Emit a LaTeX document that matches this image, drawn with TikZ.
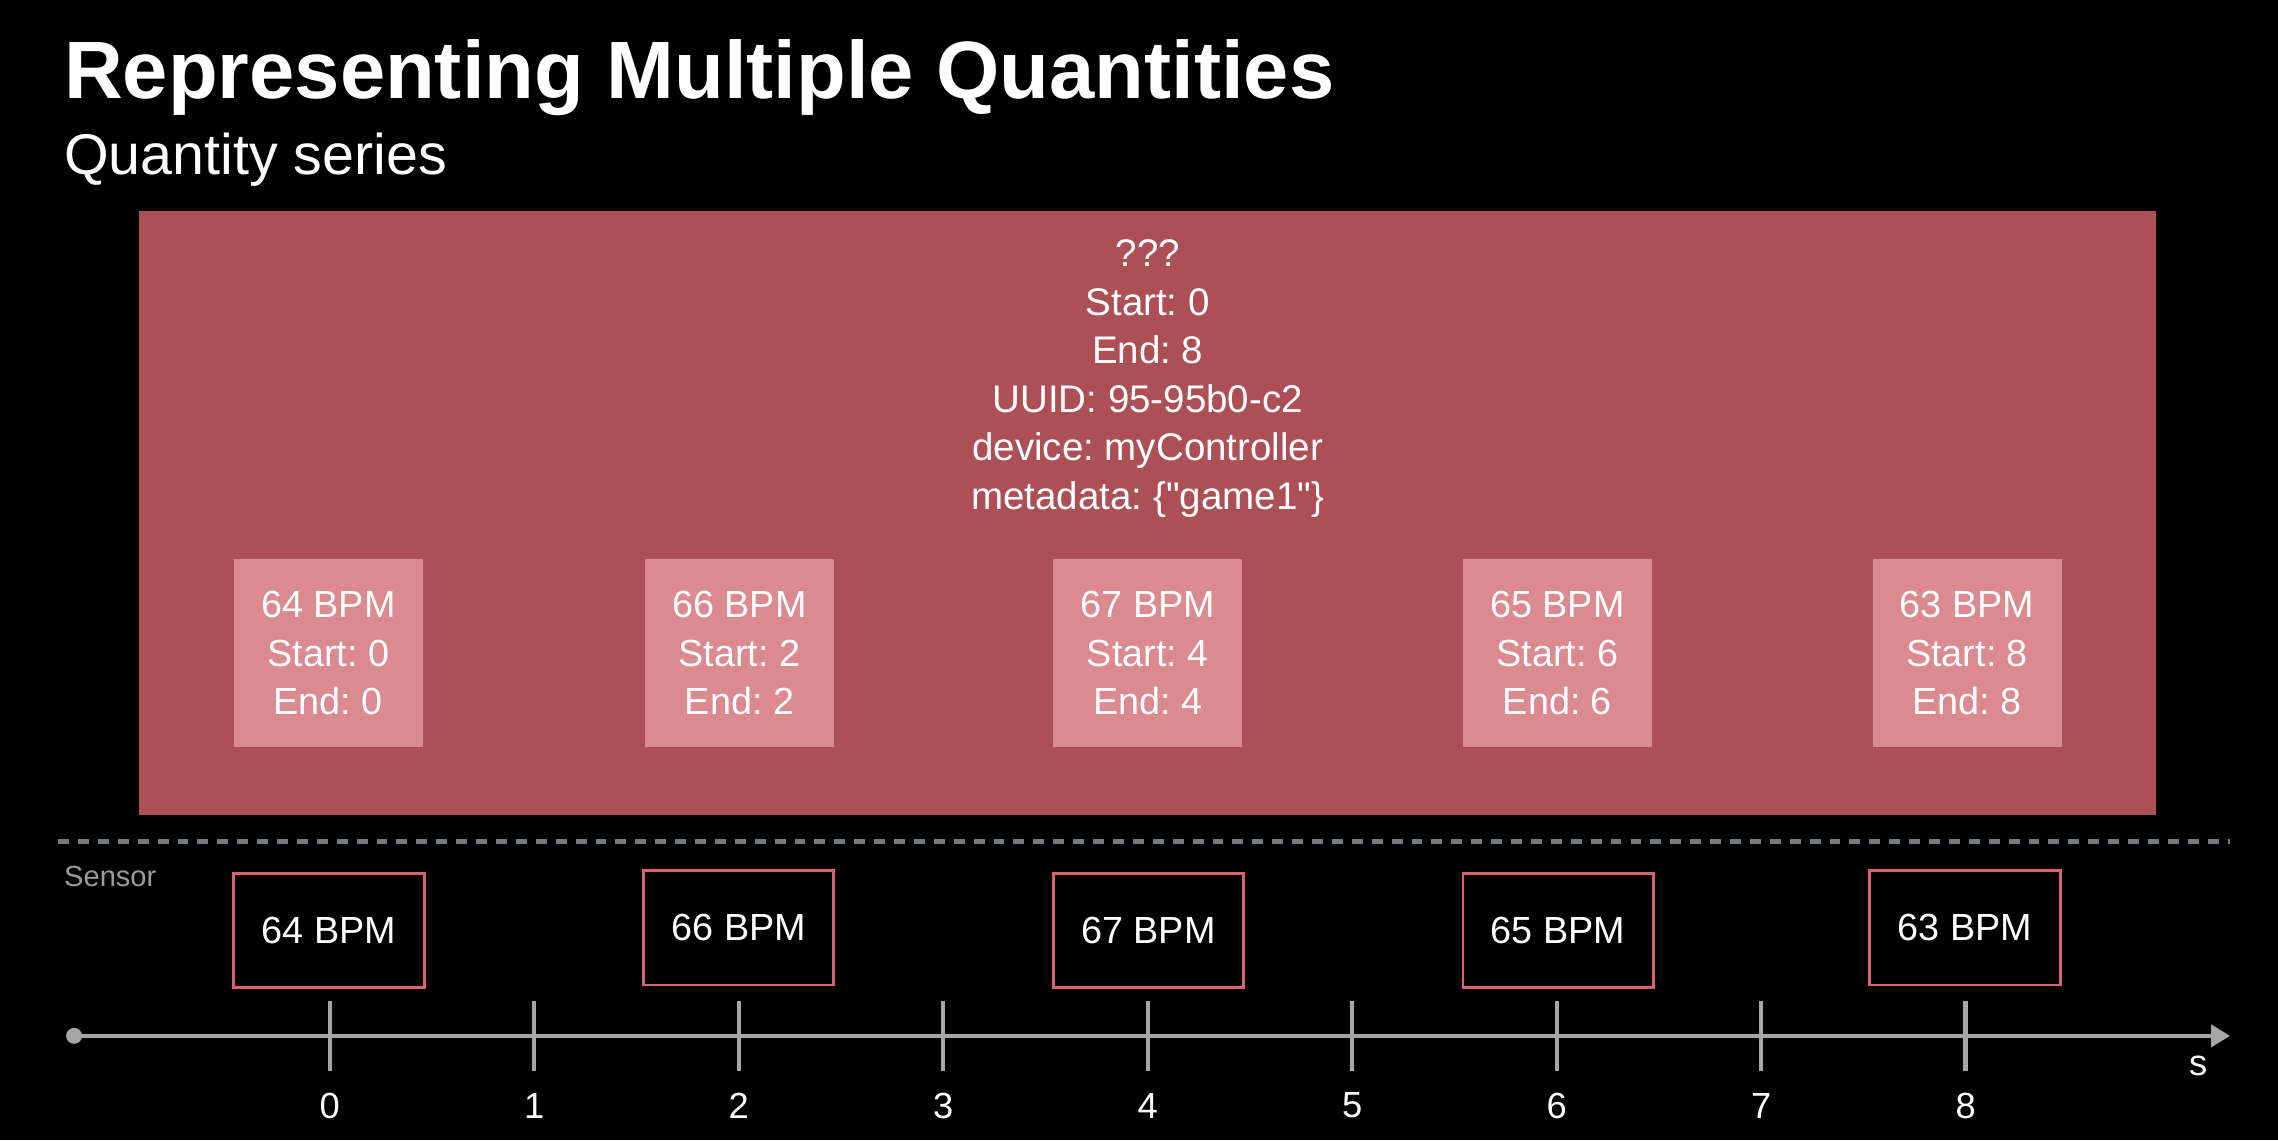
\documentclass[tikz,border=0pt]{standalone}
\usepackage{fontspec}
\setmainfont{Liberation Sans}[Ligatures=TeXOff]
\usetikzlibrary{arrows.meta}
\frenchspacing

\definecolor{seriesred}{HTML}{AC5056}
\definecolor{samplepink}{HTML}{DB8A90}
\definecolor{sensorred}{HTML}{D9636A}
\definecolor{dashgray}{HTML}{737A81}
\definecolor{axisgray}{HTML}{A6A6A6}
\definecolor{labelgray}{HTML}{9A9B9E}

\tikzset{
  sample/.style={fill=samplepink,minimum width=130pt,minimum height=130pt,
    text=white,align=center,inner sep=0pt,font=\fontsize{26}{33.5}\selectfont},
  reading/.style={draw=sensorred,line width=2pt,fill=black,minimum width=131pt,
    minimum height=79pt,text=white,inner sep=0pt,font=\fontsize{26}{30}\selectfont},
  ticklabel/.style={text=white,font=\fontsize{25}{30}\selectfont},
}

\begin{document}
\begin{tikzpicture}[x=1pt,y=-1pt]
  \useasboundingbox (0,0) rectangle (1568,785);
  \fill[black] (0,0) rectangle (1568,785);

  \node[anchor=base west,text=white,inner sep=0pt,font=\fontsize{56}{60}\selectfont\bfseries] (title) at (44,68) {Representing Multiple Quantities};
  \node[anchor=base west,text=white,inner sep=0pt,font=\fontsize{39.5}{42}\selectfont] (subtitle) at (44,120) {Quantity series};

  % the series
  \node[fill=seriesred,minimum width=1388pt,minimum height=416pt,inner sep=0pt] (series) at (790,353) {};
  \node[text=white,align=center,inner sep=0pt,font=\fontsize{26.5}{33.4}\selectfont] (header) at (790,260.5)
    {???\\Start: 0\\End: 8\\UUID: 95-95b0-c2\\device: myController\\metadata: \{"game1"\}};

  \node[sample] (q0) at (226,449.5) {64 BPM\\Start: 0\\End: 0};
  \node[sample] (q2) at (509,449.5) {66 BPM\\Start: 2\\End: 2};
  \node[sample] (q4) at (790,449.5) {67 BPM\\Start: 4\\End: 4};
  \node[sample] (q6) at (1072,449.5) {65 BPM\\Start: 6\\End: 6};
  \node[sample] (q8) at (1354,449.5) {63 BPM\\Start: 8\\End: 8};

  \coordinate (dl) at (40,579);
  \coordinate (dr) at (1535,579);
  \draw[dashgray,line width=3.2pt,dash pattern=on 7.5pt off 6.2pt] (dl) -- (dr);

  \node[anchor=west,text=labelgray,inner sep=0pt,font=\fontsize{20}{22}\selectfont] (sensor) at (44,603) {Sensor};

  % sensor readings
  \node[reading] (r0) at (226.5,640.5) {\raisebox{-2pt}{64 BPM}};
  \node[reading] (r2) at (508.5,638.5) {\raisebox{-2pt}{66 BPM}};
  \node[reading] (r4) at (790.5,640.5) {\raisebox{-2pt}{67 BPM}};
  \node[reading] (r6) at (1072.5,640.5) {\raisebox{-2pt}{65 BPM}};
  \node[reading] (r8) at (1352.5,638.5) {\raisebox{-2pt}{63 BPM}};

  % time axis
  \coordinate (origin) at (51,713);
  \coordinate (tip) at (1535,713);
  \draw[axisgray,line width=3pt,-{Triangle[length=13pt,width=15pt]}] (origin) -- (tip);
  \fill[axisgray] (origin) circle (5.5pt);
  \foreach \t in {0,...,8}{
    \coordinate (t\t) at ({227+140.75*\t},713);
    \draw[axisgray,line width=3pt] ([yshift=-24pt]t\t) -- ([yshift=24pt]t\t);
    \node[ticklabel] (l\t) at ({227+140.75*\t},761) {\t};
  }
  \node[ticklabel] (unit) at (1513,734) {s};
\end{tikzpicture}
\end{document}
